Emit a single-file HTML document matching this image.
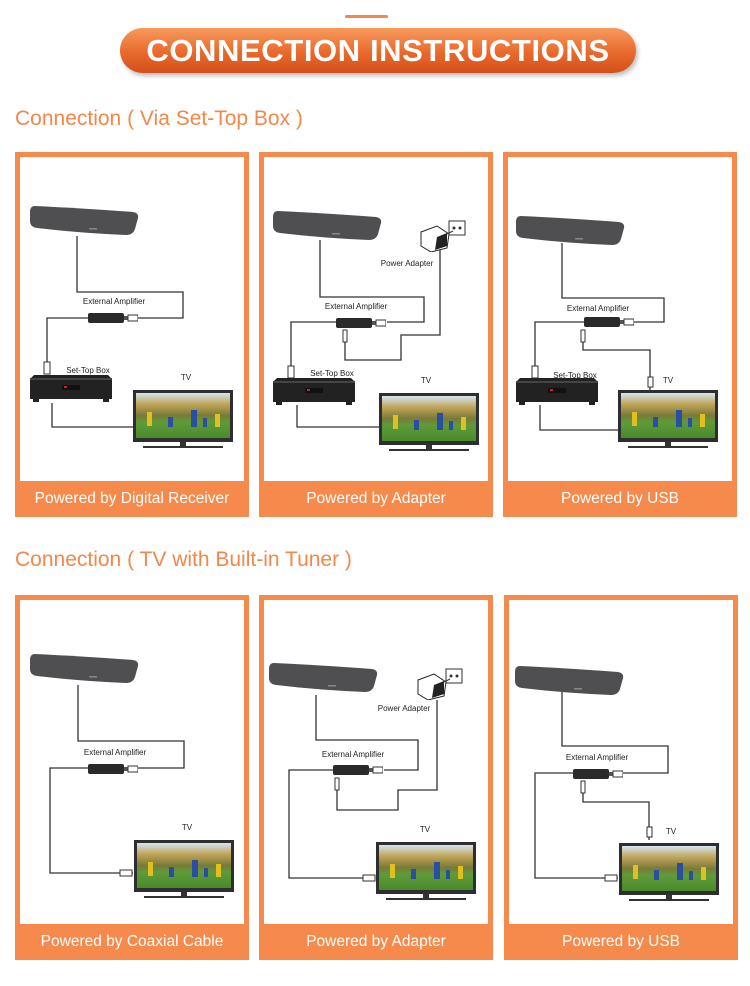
<!DOCTYPE html>
<html><head><meta charset="utf-8"><style>
html,body{margin:0;padding:0;background:#fff;}
body{width:750px;height:986px;position:relative;overflow:hidden;font-family:"Liberation Sans",sans-serif;}
.line{position:absolute;left:345px;top:15px;width:43px;height:3px;background:#f4874a;border-radius:2px;}
.pill{position:absolute;left:120px;top:28px;width:516px;height:45px;border-radius:23px;background:linear-gradient(#f99a5c,#e8692c 55%,#d4501a);box-shadow:2px 3px 4px rgba(0,0,0,.25);color:#fff;font-weight:bold;font-size:31px;line-height:46px;text-align:center;letter-spacing:0.6px;}
.h{position:absolute;left:15px;color:#f4874a;font-size:21px;}
.p{position:absolute;width:224px;height:355px;border:5px solid #f68a4c;background:#fff;}
.p svg{position:absolute;left:-5px;top:-5px;}
.bar{position:absolute;left:-5px;bottom:-5px;width:234px;height:36px;background:#f68a4c;color:#fff;font-size:15.5px;line-height:35px;text-align:center;}
</style></head><body>
<svg width="0" height="0" style="position:absolute">
<defs>
<linearGradient id="scr" x1="0" y1="0" x2="0" y2="1">
<stop offset="0" stop-color="#d5e5f0"/><stop offset="0.25" stop-color="#c0a458"/><stop offset="0.5" stop-color="#7a7a38"/><stop offset="0.65" stop-color="#5f9a3a"/><stop offset="1" stop-color="#4a8a2a"/></linearGradient>
<symbol id="ant" viewBox="0 0 110 31" width="110" height="31"><path d="M6 1 Q50 3 104 7 Q110 8 109 13 L106 24 Q104 30 97 30 Q50 28 8 23 Q1 22 1 16 L1 7 Q1 1 6 1Z" fill="#4f4f52"/><rect x="60" y="23" width="8" height="1.5" fill="#888"/></symbol>
<symbol id="tv" viewBox="0 0 100 58" width="100" height="58"><rect x="0" y="0" width="100" height="52" fill="#2e2e30"/><rect x="3" y="3" width="94" height="45" fill="url(#scr)"/><g fill="#e0c020"><rect x="14" y="22" width="5" height="14"/><rect x="82" y="24" width="5" height="13"/></g><g fill="#2a4fa0"><rect x="58" y="20" width="6" height="17"/><rect x="35" y="27" width="5" height="10"/><rect x="70" y="28" width="4" height="9"/></g><rect x="47" y="52" width="6" height="4" fill="#333"/><rect x="10" y="56" width="80" height="2" fill="#333"/></symbol>
<symbol id="stb" viewBox="0 0 82 28" width="82" height="28"><path d="M4 0 L78 0 L82 4 L82 24 L0 24 L0 4Z" fill="#222"/><rect x="0" y="3" width="82" height="2" fill="#444"/><rect x="32" y="10" width="18" height="5" fill="#111"/><rect x="34" y="11" width="3" height="2" fill="#c22"/><rect x="3" y="24" width="6" height="3" fill="#222"/><rect x="73" y="24" width="6" height="3" fill="#222"/></symbol>
<symbol id="amp" viewBox="0 0 50 10" width="50" height="10"><rect x="0" y="0" width="36" height="10" rx="2" fill="#2a2a2a"/><rect x="36" y="3" width="4" height="4" fill="#555"/><rect x="40" y="2" width="10" height="6" fill="#fff" stroke="#333"/></symbol>
<symbol id="adp" viewBox="0 0 50 32" width="50" height="32"><rect x="32" y="1" width="16" height="14" fill="#fff" stroke="#333"/><circle cx="37" cy="8" r="1.5" fill="#333"/><circle cx="43" cy="8" r="1.5" fill="#333"/><path d="M4 12 L20 6 L32 14 L30 28 L14 32 L4 26Z" fill="#fff" stroke="#222"/><path d="M20 17 L30 13 L30 26 L18 30Z" fill="#222"/><line x1="30" y1="14" x2="36" y2="11" stroke="#333"/></symbol>
</defs></svg>

<div class="line"></div>
<div class="pill">CONNECTION INSTRUCTIONS</div>
<div class="h" style="top:107px">Connection ( Via Set-Top Box )</div>
<div class="h" style="top:548px">Connection ( TV with Built-in Tuner )</div>

<!-- Panel 1 -->
<div class="p" style="left:15px;top:152px">
<svg width="234" height="365" font-family="Liberation Sans" font-size="8" fill="#222">
<g fill="none" stroke="#333" stroke-width="1.3">
<polyline points="62,84 62,140 168,140 168,166 120,166"/>
<polyline points="73,166 32,166 32,212"/>
<polyline points="37,251 37,275 118,275"/>
</g>
<use href="#ant" x="14" y="53"/>
<use href="#amp" x="73" y="161"/>
<rect x="29" y="210" width="6" height="12" fill="#fff" stroke="#333"/>
<use href="#stb" x="15" y="223"/>
<use href="#tv" x="118" y="238"/>
<text x="99" y="152" text-anchor="middle">External Amplifier</text>
<text x="73" y="221" text-anchor="middle">Set-Top Box</text>
<text x="171" y="228" text-anchor="middle">TV</text>
</svg>
<div class="bar">Powered by Digital Receiver</div></div>

<!-- Panel 2 -->
<div class="p" style="left:259px;top:152px">
<svg width="234" height="365" font-family="Liberation Sans" font-size="8" fill="#222">
<g fill="none" stroke="#333" stroke-width="1.3">
<polyline points="61,88 61,145 165,145 165,170 128,170"/>
<polyline points="77,170 32,170 32,216"/>
<polyline points="181,98 181,183 142,183 142,208 86,208 86,188"/>
<polyline points="38,253 38,275 120,275"/>
</g>
<use href="#ant" x="13" y="58"/>
<use href="#adp" x="158" y="68"/>
<use href="#amp" x="77" y="166"/>
<rect x="84" y="178" width="4" height="12" fill="#fff" stroke="#333"/>
<rect x="29" y="214" width="6" height="12" fill="#fff" stroke="#333"/>
<use href="#stb" x="14" y="226"/>
<use href="#tv" x="120" y="241"/>
<text x="148" y="114" text-anchor="middle">Power Adapter</text>
<text x="97" y="157" text-anchor="middle">External Amplifier</text>
<text x="73" y="224" text-anchor="middle">Set-Top Box</text>
<text x="167" y="231" text-anchor="middle">TV</text>
</svg>
<div class="bar">Powered by Adapter</div></div>

<!-- Panel 3 -->
<div class="p" style="left:503px;top:152px">
<svg width="234" height="365" font-family="Liberation Sans" font-size="8" fill="#222">
<g fill="none" stroke="#333" stroke-width="1.3">
<polyline points="59,91 59,146 161,146 161,170 124,170"/>
<polyline points="81,170 32,170 32,216"/>
<polyline points="80,178 80,198 147,198 147,238"/>
<polyline points="37,253 37,278 115,278"/>
</g>
<use href="#ant" x="12" y="63"/>
<use href="#amp" x="81" y="165"/>
<rect x="78" y="178" width="4" height="12" fill="#fff" stroke="#333"/>
<rect x="145" y="225" width="5" height="10" fill="#fff" stroke="#333"/>
<rect x="29" y="214" width="6" height="12" fill="#fff" stroke="#333"/>
<use href="#stb" x="13" y="226"/>
<use href="#tv" x="115" y="238"/>
<text x="95" y="159" text-anchor="middle">External Amplifier</text>
<text x="72" y="226" text-anchor="middle">Set-Top Box</text>
<text x="165" y="231" text-anchor="middle">TV</text>
</svg>
<div class="bar">Powered by USB</div></div>

<!-- Panel 4 -->
<div class="p" style="left:15px;top:595px">
<svg width="234" height="365" font-family="Liberation Sans" font-size="8" fill="#222">
<g fill="none" stroke="#333" stroke-width="1.3">
<polyline points="63,90 63,146 169,146 169,173 120,173"/>
<polyline points="73,173 35,173 35,278 118,278"/>
</g>
<use href="#ant" x="14" y="58"/>
<use href="#amp" x="73" y="169"/>
<rect x="105" y="275" width="12" height="6" fill="#fff" stroke="#333"/>
<use href="#tv" x="119" y="245"/>
<text x="100" y="160" text-anchor="middle">External Amplifier</text>
<text x="172" y="235" text-anchor="middle">TV</text>
</svg>
<div class="bar">Powered by Coaxial Cable</div></div>

<!-- Panel 5 -->
<div class="p" style="left:259px;top:595px">
<svg width="234" height="365" font-family="Liberation Sans" font-size="8" fill="#222">
<g fill="none" stroke="#333" stroke-width="1.3">
<polyline points="57,100 57,145 159,145 159,175 125,175"/>
<polyline points="74,175 30,175 30,283 116,283"/>
<polyline points="178,105 178,195 139,195 139,215 78,215 78,195"/>
</g>
<use href="#ant" x="9" y="67"/>
<use href="#adp" x="155" y="73"/>
<use href="#amp" x="74" y="170"/>
<rect x="76" y="183" width="4" height="12" fill="#fff" stroke="#333"/>
<rect x="104" y="280" width="12" height="6" fill="#fff" stroke="#333"/>
<use href="#tv" x="117" y="247"/>
<text x="145" y="116" text-anchor="middle">Power Adapter</text>
<text x="94" y="162" text-anchor="middle">External Amplifier</text>
<text x="166" y="237" text-anchor="middle">TV</text>
</svg>
<div class="bar">Powered by Adapter</div></div>

<!-- Panel 6 -->
<div class="p" style="left:504px;top:595px">
<svg width="234" height="365" font-family="Liberation Sans" font-size="8" fill="#222">
<g fill="none" stroke="#333" stroke-width="1.3">
<polyline points="58,97 58,151 164,151 164,178 115,178"/>
<polyline points="69,178 31,178 31,283 114,283"/>
<polyline points="79,186 79,207 145,207 145,245"/>
</g>
<use href="#ant" x="10" y="70"/>
<use href="#amp" x="69" y="174"/>
<rect x="77" y="186" width="4" height="12" fill="#fff" stroke="#333"/>
<rect x="143" y="232" width="5" height="10" fill="#fff" stroke="#333"/>
<rect x="101" y="280" width="12" height="6" fill="#fff" stroke="#333"/>
<use href="#tv" x="115" y="248"/>
<text x="93" y="165" text-anchor="middle">External Amplifier</text>
<text x="167" y="239" text-anchor="middle">TV</text>
</svg>
<div class="bar">Powered by USB</div></div>
</body></html>
